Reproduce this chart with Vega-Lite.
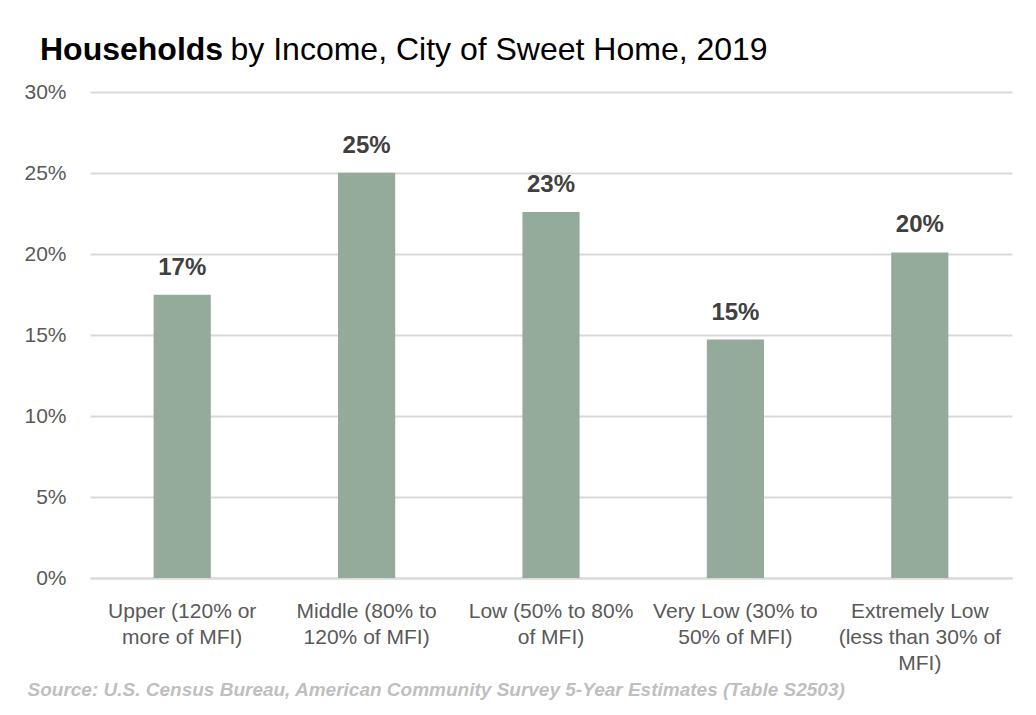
{
  "$schema": "https://vega.github.io/schema/vega-lite/v6.json",
  "autosize": "none",
  "width": 922,
  "height": 486,
  "padding": {"left": 90, "top": 92, "right": 24, "bottom": 137},
  "background": "white",
  "title": {
    "text": "Households",
    "font": "Liberation Sans",
    "fontWeight": "bold",
    "fontSize": 32,
    "color": "#000000",
    "anchor": "start",
    "frame": "group",
    "dx": -50,
    "dy": 44,
    "offset": 10
  },
  "data": {
    "values": [
      {"category": "Upper (120% or|more of MFI)", "share": 0.1749},
      {"category": "Middle (80%  to|120% of MFI)", "share": 0.2502},
      {"category": "Low (50%  to 80%|of MFI)", "share": 0.2260},
      {"category": "Very Low (30% to|50% of MFI)", "share": 0.1472},
      {"category": "Extremely Low|(less than 30% of|MFI)", "share": 0.2010}
    ]
  },
  "encoding": {
    "x": {
      "field": "category",
      "type": "nominal",
      "sort": null,
      "scale": {"paddingInner": 0.69, "paddingOuter": 0.345},
      "axis": {
        "title": "Source: U.S. Census Bureau, American Community Survey 5-Year Estimates (Table S2503)",
        "titleX": -63,
        "titleY": 117,
        "titleAlign": "left",
        "titleAnchor": null,
        "titleBaseline": "alphabetic",
        "titleFont": "Liberation Sans",
        "titleFontStyle": "italic",
        "titleFontWeight": "bold",
        "titleFontSize": 19,
        "titleColor": "#BFBFBF",
        "labelExpr": "split(datum.label, '|')",
        "labelAngle": 0,
        "labelFont": "Liberation Sans",
        "labelFontSize": 21,
        "labelLineHeight": 26,
        "labelColor": "#595959",
        "labelPadding": 22,
        "labelLimit": 0,
        "ticks": false,
        "domain": true,
        "domainColor": "#D9D9D9",
        "domainWidth": 2,
        "grid": false
      }
    },
    "y": {
      "field": "share",
      "type": "quantitative",
      "scale": {"domain": [0, 0.3], "nice": false},
      "axis": {
        "values": [0, 0.05, 0.1, 0.15, 0.2, 0.25, 0.3],
        "format": ".0%",
        "title": "by Income, City of Sweet Home, 2019",
        "titleAngle": 0,
        "titleX": 140,
        "titleY": -33,
        "titleAlign": "left",
        "titleBaseline": "alphabetic",
        "titleFont": "Liberation Sans",
        "titleFontWeight": "normal",
        "titleFontSize": 32,
        "titleColor": "#000000",
        "labelFont": "Liberation Sans",
        "labelFontSize": 21,
        "labelColor": "#595959",
        "labelPadding": 24,
        "ticks": false,
        "domain": false,
        "grid": true,
        "gridColor": "#D9D9D9",
        "gridWidth": 2
      }
    }
  },
  "layer": [
    {"mark": {"type": "bar", "color": "#94AA9B"}},
    {
      "mark": {
        "type": "text",
        "baseline": "alphabetic",
        "dy": -20,
        "font": "Liberation Sans",
        "fontWeight": "bold",
        "fontSize": 24,
        "color": "#404040"
      },
      "encoding": {
        "text": {"field": "share", "type": "quantitative", "format": ".0%"}
      }
    }
  ],
  "config": {
    "view": {"stroke": null},
    "axis": {"gridZIndex": 0}
  }
}
